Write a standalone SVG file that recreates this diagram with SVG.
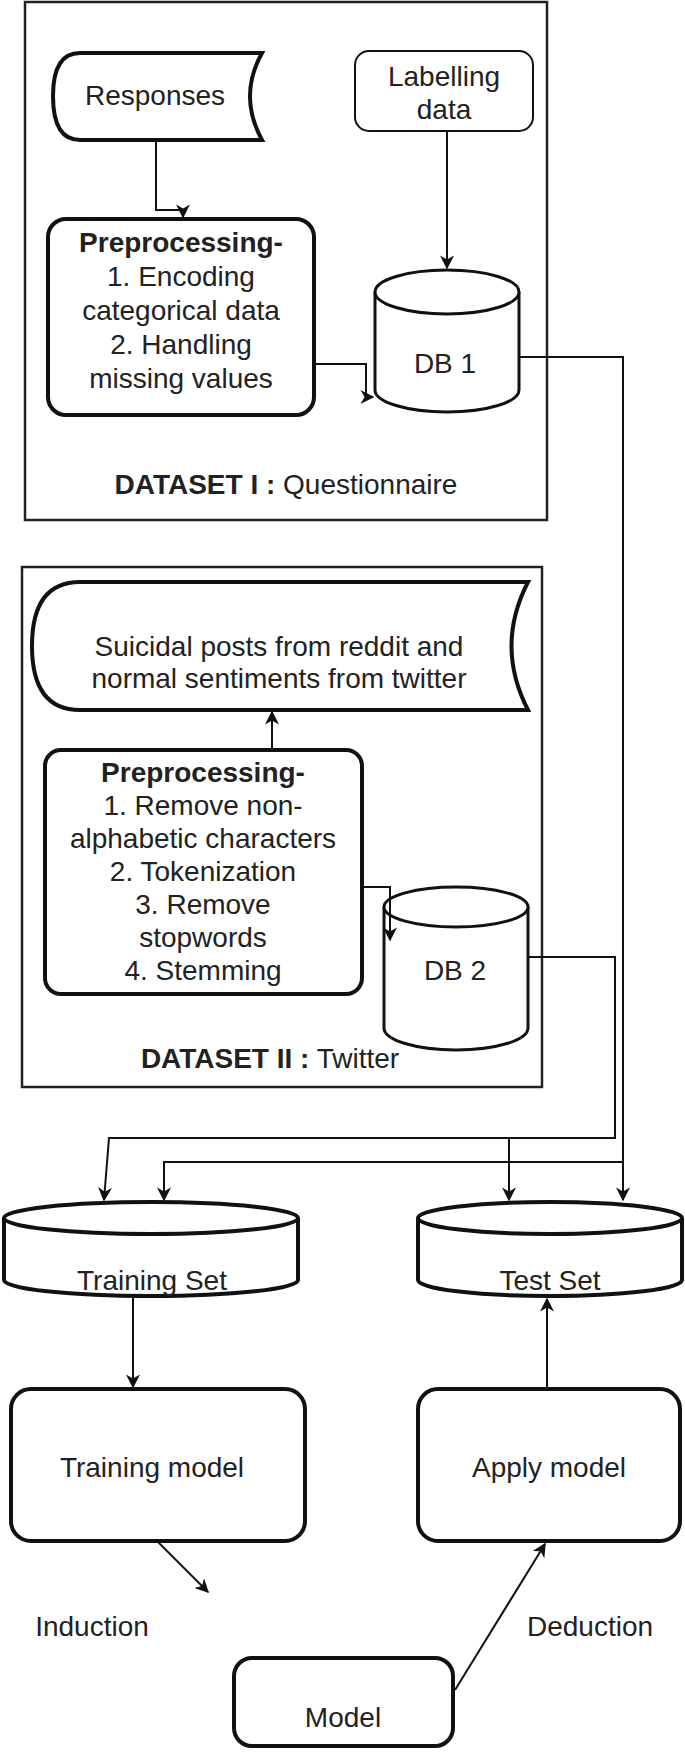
<svg xmlns="http://www.w3.org/2000/svg" width="685" height="1758" viewBox="0 0 685 1758">
<style>
text{font-family:"Liberation Sans",Arial,sans-serif;font-size:28px;fill:#222;text-anchor:middle}
.b{font-weight:bold}
.n{fill:#fff;stroke:#111;stroke-width:4}
.thin{fill:#fff;stroke:#111;stroke-width:2}
.frame{fill:none;stroke:#222;stroke-width:2.5}
.c{fill:none;stroke:#111;stroke-width:2}
</style>
<defs>
<marker id="a" viewBox="0 0 10 10" refX="9" refY="5" markerWidth="14" markerHeight="14" orient="auto" markerUnits="userSpaceOnUse"><path d="M0,0 L10,5 L0,10 L3,5 Z" fill="#111"/></marker>
</defs>
<rect width="685" height="1758" fill="#fff"/>
<g id="dataset1"><rect class="frame" x="25" y="2" width="522" height="518"/><text x="286" y="494"><tspan class="b">DATASET I :</tspan> Questionnaire</text></g>
<g id="dataset2"><rect class="frame" x="22" y="567" width="520" height="520"/><text x="270" y="1068"><tspan class="b">DATASET II :</tspan> Twitter</text></g>
<g id="responses"><path class="n" d="M80,53 H262 Q238,96 262,140 H80 Q53,140 53,96 Q53,53 80,53 Z"/><text x="155" y="105">Responses</text></g>
<g id="labelling"><rect class="thin" x="355" y="51" width="178" height="80" rx="14"/><text x="444" y="86">Labelling</text><text x="444" y="119">data</text></g>
<g id="pre1"><rect class="n" x="48" y="219" width="266" height="196" rx="18"/>
<text x="181" y="252" class="b">Preprocessing-</text><text x="181" y="286">1. Encoding</text><text x="181" y="320">categorical data</text><text x="181" y="354">2. Handling</text><text x="181" y="388">missing values</text></g>
<g id="db1"><path class="thin" d="M375,292 V390 A72,22 0 0 0 519,390 V292" style="stroke-width:3"/><ellipse class="thin" style="stroke-width:3" cx="447" cy="292" rx="72" ry="22"/><text x="445" y="373">DB 1</text></g>
<g id="posts"><path class="n" d="M80,582 H528 Q495,646 528,710 H80 Q32,710 32,646 Q32,582 80,582 Z"/><text x="279" y="656">Suicidal posts from reddit and</text><text x="279" y="688">normal sentiments from twitter</text></g>
<g id="pre2"><rect class="n" x="45" y="750" width="317" height="244" rx="16"/>
<text x="203" y="782" class="b">Preprocessing-</text><text x="203" y="815">1. Remove non-</text><text x="203" y="848">alphabetic characters</text><text x="203" y="881">2. Tokenization</text><text x="203" y="914">3. Remove</text><text x="203" y="947">stopwords</text><text x="203" y="980">4. Stemming</text></g>
<g id="db2"><path class="thin" style="stroke-width:3" d="M384,907 V1028 A72,22 0 0 0 528,1028 V907"/><ellipse class="thin" style="stroke-width:3" cx="456" cy="907" rx="72" ry="20"/><text x="455" y="980">DB 2</text></g>
<g id="train"><path class="n" d="M4,1218 V1280 A147,16 0 0 0 298,1280 V1218"/><ellipse class="n" cx="151" cy="1218" rx="147" ry="16"/><text x="152" y="1290">Training Set</text></g>
<g id="test"><path class="n" d="M418,1218 V1280 A132,16 0 0 0 682,1280 V1218"/><ellipse class="n" cx="550" cy="1218" rx="132" ry="16"/><text x="550" y="1290">Test Set</text></g>
<g id="trainmodel"><rect class="n" x="11" y="1389" width="294" height="152" rx="20"/><text x="152" y="1477">Training model</text></g>
<g id="apply"><rect class="n" x="418" y="1389" width="262" height="152" rx="20"/><text x="549" y="1477">Apply model</text></g>
<g id="model"><rect class="n" x="234" y="1658" width="219" height="88" rx="18"/><text x="343" y="1727">Model</text></g>
<text x="92" y="1636">Induction</text><text x="590" y="1636">Deduction</text>
<g id="connectors" class="c">
<path class="c" d="M156,140 V210 H183 V217" marker-end="url(#a)"/>
<path class="c" d="M447,131 V268" marker-end="url(#a)"/>
<path class="c" d="M314,364 H366 V397 H373" marker-end="url(#a)"/>
<path class="c" d="M272,750 V712" marker-end="url(#a)"/>
<path class="c" d="M362,887 H390 V940" marker-end="url(#a)"/>
<path class="c" d="M519,357 H623 V1200" marker-end="url(#a)"/>
<path class="c" d="M528,957 H615 V1138 H109 L104,1200" marker-end="url(#a)"/>
<path class="c" d="M623,1162 H164 V1200" marker-end="url(#a)"/>
<path class="c" d="M509,1138 V1200" marker-end="url(#a)"/>
<path class="c" d="M133,1297 V1387" marker-end="url(#a)"/>
<path class="c" d="M547,1389 V1299" marker-end="url(#a)"/>
<path class="c" d="M157,1541 L208,1592" marker-end="url(#a)"/>
<path class="c" d="M455,1690 L545,1544" marker-end="url(#a)"/>
</g>
</svg>
